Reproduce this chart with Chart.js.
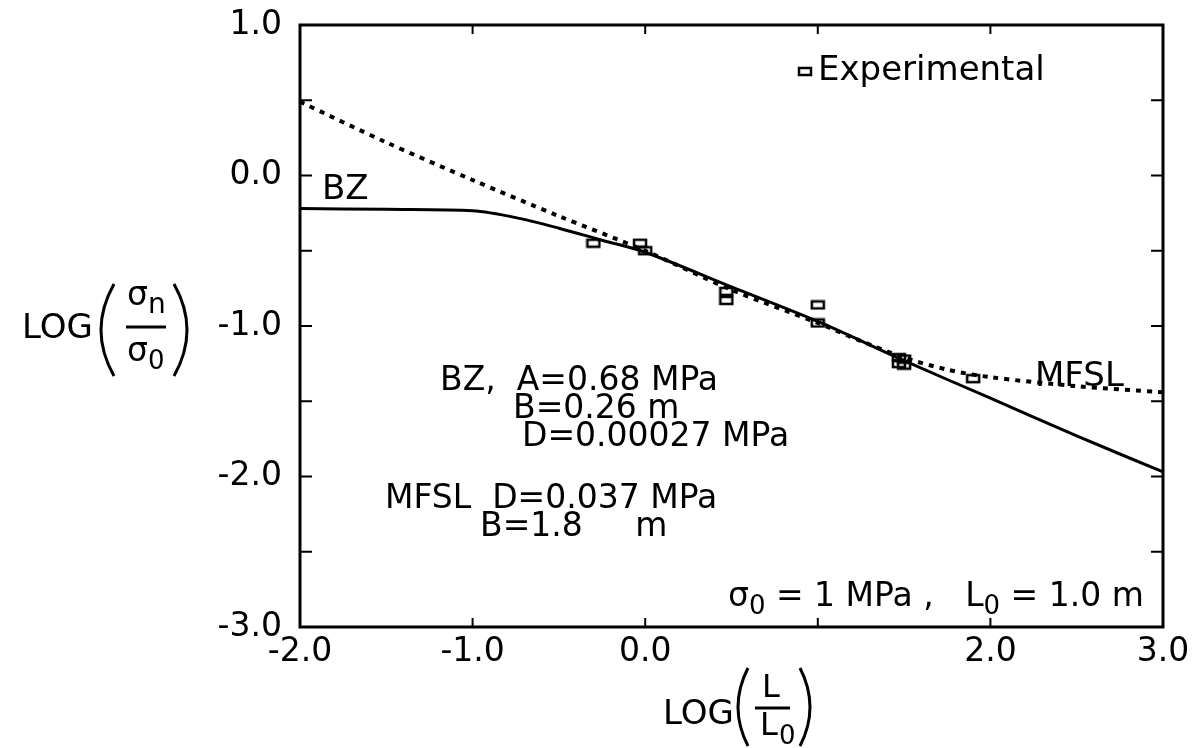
<!DOCTYPE html>
<html>
<head>
<meta charset="utf-8">
<script src="https://cdn.jsdelivr.net/npm/chart.js@4"></script>
<style>
body { margin: 0; background: #fff; }
#wrap { width: 1193px; height: 748px; }
</style>
</head>
<body>
<div id="wrap"><canvas id="chart"></canvas></div>
<script>
// curves, x = LOG(L/L0), y = LOG(sn/s0)
let bzX = [-2.0, -1.5, -1.0, -0.75, -0.5, -0.25, 0.0, 0.5, 1.0, 1.5, 2.0, 2.5, 3.0];
let bzY = [-0.22, -0.225, -0.235, -0.28, -0.35, -0.43, -0.51, -0.74, -0.97, -1.23, -1.48, -1.73, -1.97];
let mfslX = [-2.0, -1.5, -1.0, -0.5, 0.0, 0.5, 1.0, 1.25, 1.5, 1.75, 2.0, 2.5, 3.0];
let mfslY = [0.49, 0.22, -0.03, -0.27, -0.50, -0.76, -0.98, -1.10, -1.21, -1.29, -1.34, -1.40, -1.44];
let expX = [-0.30, -0.03, 0.0, 0.47, 0.47, 1.0, 1.0, 1.47, 1.50, 1.47, 1.50, 1.90];
let expY = [-0.45, -0.45, -0.50, -0.77, -0.83, -0.86, -0.98, -1.21, -1.22, -1.25, -1.26, -1.35];
let xTicks = [-2, -1, 0, 1, 2, 3];
let xTickLabels = ['-2.0', '-1.0', '0.0', '', '2.0', '3.0'];
let yTicks = [-3, -2.5, -2, -1.5, -1, -0.5, 0, 0.5, 1];
let yTickLabels = ['-3.0', '', '-2.0', '', '-1.0', '', '0.0', '', '1.0'];

const FONT = '"DejaVu Sans", sans-serif';

// little hollow box used as the experimental marker
let box = document.createElement('canvas');
box.width = 16; box.height = 11;
let bctx = box.getContext('2d');
bctx.lineWidth = 2.5;
bctx.strokeStyle = '#000';
bctx.strokeRect(2, 2, 12, 7);

const pts = (xs, ys) => xs.map((v, i) => ({ x: v, y: ys[i] }));

function txt(ctx, s, x, y, size) {
    ctx.font = size + 'px ' + FONT;
    ctx.fillText(s, x, y);
    return x + ctx.measureText(s).width;
}

function bracket(ctx, x, top, bot, bulge) {
    ctx.beginPath();
    ctx.moveTo(x, top);
    ctx.quadraticCurveTo(x + bulge, (top + bot) / 2, x, bot);
    ctx.stroke();
}

const decor = {
    id: 'decor',
    afterDraw(chart) {
        let ctx = chart.ctx;
        let a = chart.chartArea;
        let sx = chart.scales.x, sy = chart.scales.y;
        ctx.save();
        ctx.strokeStyle = '#000';
        ctx.fillStyle = '#000';
        ctx.lineWidth = 3;
        ctx.strokeRect(a.left, a.top, a.right - a.left, a.bottom - a.top);

        // inward ticks on all four sides
        ctx.lineWidth = 2;
        sx.ticks.forEach(t => {
            let px = sx.getPixelForValue(t.value);
            ctx.beginPath();
            ctx.moveTo(px, a.bottom); ctx.lineTo(px, a.bottom - 9);
            ctx.moveTo(px, a.top); ctx.lineTo(px, a.top + 9);
            ctx.stroke();
        });
        sy.ticks.forEach(t => {
            let py = sy.getPixelForValue(t.value);
            ctx.beginPath();
            ctx.moveTo(a.left, py); ctx.lineTo(a.left + 12, py);
            ctx.moveTo(a.right, py); ctx.lineTo(a.right - 12, py);
            ctx.stroke();
        });

        ctx.textBaseline = 'middle';
        ctx.textAlign = 'left';

        // legend
        ctx.drawImage(box, 797, 66);
        txt(ctx, 'Experimental', 818, 71, 34);

        // curve labels
        txt(ctx, 'BZ', 322, 190, 34);
        txt(ctx, 'MFSL', 1035, 377, 34);

        // fit parameters
        txt(ctx, 'BZ,  A=0.68 MPa', 440, 381, 33);
        txt(ctx, 'B=0.26 m', 513, 409, 33);
        txt(ctx, 'D=0.00027 MPa', 522, 437, 33);
        txt(ctx, 'MFSL  D=0.037 MPa', 385, 499, 33);
        txt(ctx, 'B=1.8     m', 480, 527, 33);

        // reference values
        let x0 = txt(ctx, 'σ', 728, 597, 33);
        x0 = txt(ctx, '0', x0, 607, 26);
        x0 = txt(ctx, ' = 1 MPa ,   L', x0, 597, 33);
        x0 = txt(ctx, '0', x0, 607, 26);
        txt(ctx, ' = 1.0 m', x0, 597, 33);

        // y axis title
        ctx.lineWidth = 3;
        txt(ctx, 'LOG', 22, 329, 34);
        bracket(ctx, 114, 284, 376, -26);
        txt(ctx, 'σ', 127, 296, 33);
        txt(ctx, 'n', 148, 306, 28);
        ctx.beginPath(); ctx.moveTo(126, 327); ctx.lineTo(166, 327); ctx.stroke();
        txt(ctx, 'σ', 127, 352, 33);
        txt(ctx, '0', 148, 362, 26);
        bracket(ctx, 174, 284, 376, 26);

        // x axis title
        txt(ctx, 'LOG', 663, 715, 34);
        bracket(ctx, 748, 668, 746, -20);
        txt(ctx, 'L', 762, 689, 32);
        ctx.beginPath(); ctx.moveTo(755, 708); ctx.lineTo(790, 708); ctx.stroke();
        txt(ctx, 'L', 760, 727, 32);
        txt(ctx, '0', 779, 737, 26);
        bracket(ctx, 800, 668, 746, 20);
        ctx.restore();
    }
};

new Chart(document.getElementById('chart'), {
    type: 'scatter',
    data: {
        datasets: [
            {
                label: 'Experimental',
                data: pts(expX, expY),
                pointStyle: box,
                showLine: false
            },
            {
                label: 'BZ',
                data: pts(bzX, bzY),
                showLine: true,
                borderColor: '#000',
                borderWidth: 3,
                pointRadius: 0,
                tension: 0.3
            },
            {
                label: 'MFSL',
                data: pts(mfslX, mfslY),
                showLine: true,
                borderColor: '#000',
                borderWidth: 4,
                borderDash: [5, 6],
                pointRadius: 0,
                tension: 0.3
            }
        ]
    },
    options: {
        responsive: true,
        maintainAspectRatio: false,
        animation: false,
        layout: { padding: { top: 25, right: 30, left: 0, bottom: 0 } },
        plugins: { legend: { display: false }, tooltip: { enabled: false } },
        scales: {
            x: {
                type: 'linear',
                min: -2, max: 3,
                afterBuildTicks: s => { s.ticks = xTicks.map(v => ({ value: v })); },
                afterFit: s => { s.height = 121; s.paddingLeft = 0; s.paddingRight = 0; },
                grid: { display: false, drawTicks: false },
                border: { display: false },
                ticks: {
                    autoSkip: false,
                    maxRotation: 0,
                    padding: 6,
                    color: '#000',
                    font: { family: FONT, size: 33 },
                    callback: v => xTickLabels[xTicks.indexOf(v)]
                }
            },
            y: {
                type: 'linear',
                min: -3, max: 1,
                afterBuildTicks: s => { s.ticks = yTicks.map(v => ({ value: v })); },
                afterFit: s => { s.width = 300; s.paddingTop = 0; s.paddingBottom = 0; },
                grid: { display: false, drawTicks: false },
                border: { display: false },
                ticks: {
                    autoSkip: false,
                    padding: 18,
                    color: '#000',
                    font: { family: FONT, size: 33 },
                    callback: v => yTickLabels[yTicks.indexOf(v)]
                }
            }
        }
    },
    plugins: [decor]
});
</script>
</body>
</html>
